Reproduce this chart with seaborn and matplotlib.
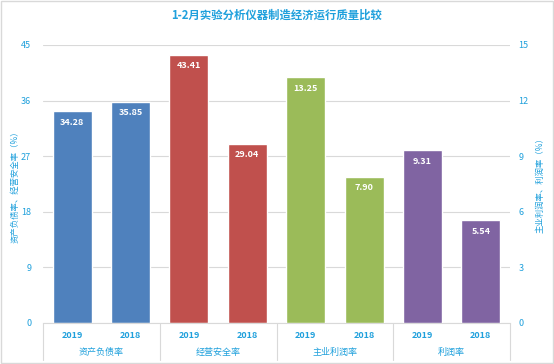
import matplotlib
matplotlib.use("Agg")
import matplotlib.pyplot as plt
import matplotlib.transforms as mtransforms
from matplotlib.patches import Rectangle
import seaborn as sns
import pandas as pd

sns.set_style("white")
plt.rcParams['font.family'] = ['Noto Sans CJK SC', 'DejaVu Sans']

title = "1-2月实验分析仪器制造经济运行质量比较"
groups = ["资产负债率", "经营安全率", "主业利润率", "利润率"]
years = ["2019", "2018"]
left_values = [34.28, 35.85, 43.41, 29.04]    # 资产负债率, 经营安全率
right_values = [13.25, 7.90, 9.31, 5.54]      # 主业利润率, 利润率
colors = ["#4F81BD", "#C0504D", "#9BBB59", "#8064A2"]
left_label = "资产负债率、经营安全率（%）"
right_label = "主业利润率、利润率（%）"
left_ticks = [0, 9, 18, 27, 36, 45]
right_ticks = [0, 3, 6, 9, 12, 15]

txt = "#1FA0DC"
grid = "#D9D9D9"

keys = [f"{g}|{y}" for g in groups for y in years]
left_df = pd.DataFrame({"key": keys[:4], "value": left_values,
                        "grp": [groups[0]] * 2 + [groups[1]] * 2})
right_df = pd.DataFrame({"key": keys[4:], "value": right_values,
                         "grp": [groups[2]] * 2 + [groups[3]] * 2})

fig = plt.figure(figsize=(5.54, 3.64), dpi=100)
ax = fig.add_axes([43 / 554, 41 / 364, 467 / 554, 278 / 364])
ax2 = ax.twinx()

sns.barplot(data=left_df, x="key", y="value", hue="grp", order=keys,
            hue_order=groups, palette=colors, width=0.67, dodge=False,
            legend=False, ax=ax, saturation=1)
sns.barplot(data=right_df, x="key", y="value", hue="grp", order=keys,
            hue_order=groups, palette=colors, width=0.67, dodge=False,
            legend=False, ax=ax2, saturation=1)

ax.set_ylim(0, 45)
ax2.set_ylim(0, 15)
ax.set_xlim(-0.5, 7.5)
ax.set_yticks(left_ticks)
ax2.set_yticks(right_ticks)
ax.set_yticklabels([str(t) for t in left_ticks])
ax2.set_yticklabels([str(t) for t in right_ticks])
ax.tick_params(axis="y", length=0, labelsize=6.5, labelcolor=txt, pad=8.5)
ax2.tick_params(axis="y", length=0, labelsize=6.5, labelcolor=txt, pad=6)
for a in (ax, ax2):
    for s in a.spines.values():
        s.set_visible(False)
    a.set_xlabel("")
    a.set_ylabel("")

fig.text(15 / 554, 1 - 185 / 364, left_label, rotation=90, ha="center",
         va="center", fontsize=6, color=txt)
fig.text(540 / 554, 1 - 183 / 364, right_label, rotation=90, ha="center",
         va="center", fontsize=6, color=txt)

ax.yaxis.grid(True, color=grid, linewidth=0.8)
ax.set_axisbelow(True)
ax.spines["bottom"].set_visible(True)
ax.spines["bottom"].set_color(grid)

ax.set_xticks(range(8))
ax.set_xticklabels(years * 4, fontsize=6.5, color=txt, fontweight="bold")
ax.tick_params(axis="x", length=0, pad=6)

trans = mtransforms.blended_transform_factory(ax.transData, ax.transAxes)
for xb in [-0.5, 1.5, 3.5, 5.5, 7.5]:
    ax.plot([xb, xb], [0, -37 / 278], transform=trans, color=grid,
            linewidth=0.8, clip_on=False)
for i, g in enumerate(groups):
    ax.text(2 * i + 0.5, -29 / 278, g, transform=trans, ha="center",
            va="center", fontsize=6.5, color=txt)

for a in (ax, ax2):
    for c in a.containers:
        for bar in c:
            h = bar.get_height()
            if h != h or h == 0:
                continue
            a.annotate(f"{h:.2f}", (bar.get_x() + bar.get_width() / 2, h),
                       xytext=(0, -8), textcoords="offset points",
                       ha="center", va="center", color="white",
                       fontsize=6.5, fontweight="bold")

fig.text(0.5, 1 - 15 / 364, title, ha="center", va="center",
         fontsize=8.2, fontweight="bold", color=txt)
fig.patches.append(Rectangle((0.002, 0.004), 0.996, 0.993, transform=fig.transFigure,
                             fill=False, edgecolor=grid, linewidth=1))

fig.savefig("out.png", dpi=100)
